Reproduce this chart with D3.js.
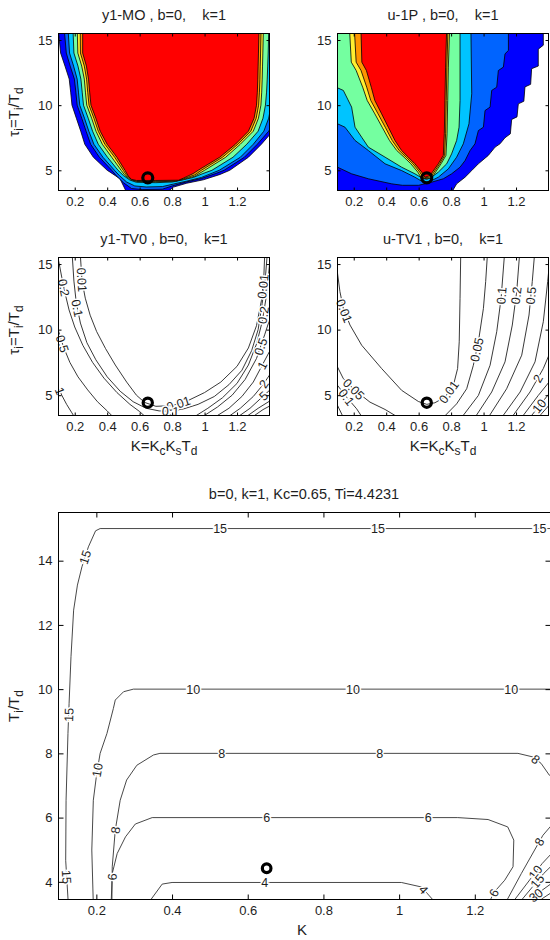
<!DOCTYPE html>
<html>
<head>
<meta charset="utf-8">
<script src="https://cdn.jsdelivr.net/npm/d3@7"></script>
<style>
  body { margin: 0; background: #fff; }
  svg { display: block; }
</style>
</head>
<body>
<svg id="fig" width="550" height="940"></svg>
<script>
// ---- shared axes data ----
const kDomain = [0.1, 1.4];
const tauDomain = [3.45, 15.5];
const kTicks = [0.2, 0.4, 0.6, 0.8, 1, 1.2];
const tauTicksSmall = [5, 10, 15];
const tauTicksBig = [4, 6, 8, 10, 12, 14];
const optimum = [0.65, 4.4231];
const bandColors = ["#0000ff", "#0064ff", "#00c4ff", "#74ffa0", "#ffee30", "#ff9400", "#ff0000"];

// ---- y1-MO filled contour: band edges per tau row ----
const moRows = [15.6, 14, 13, 12, 11, 10, 9, 8, 7, 6, 5];
const moLeft = [
  [0.100, 0.113, 0.140, 0.166, 0.175, 0.183, 0.210, 0.237, 0.262, 0.315, 0.400],
  [0.137, 0.148, 0.172, 0.198, 0.207, 0.215, 0.243, 0.270, 0.298, 0.352, 0.428],
  [0.160, 0.168, 0.193, 0.215, 0.223, 0.231, 0.260, 0.287, 0.318, 0.374, 0.445],
  [0.190, 0.195, 0.220, 0.238, 0.246, 0.254, 0.283, 0.310, 0.345, 0.402, 0.467],
  [0.216, 0.219, 0.243, 0.259, 0.266, 0.274, 0.304, 0.331, 0.370, 0.428, 0.486],
  [0.234, 0.235, 0.259, 0.273, 0.280, 0.288, 0.318, 0.345, 0.386, 0.446, 0.499],
  [0.249, 0.249, 0.272, 0.285, 0.292, 0.300, 0.330, 0.357, 0.400, 0.460, 0.510]
];
// right edges listed from tau=5 upwards
const moRight = [
  [1.155, 1.27, 1.35, 1.42, 1.46, 1.49, 1.51, 1.52, 1.53, 1.54, 1.55],
  [1.12, 1.245, 1.325, 1.395, 1.44, 1.47, 1.49, 1.50, 1.51, 1.52, 1.53],
  [1.09, 1.22, 1.30, 1.365, 1.395, 1.41, 1.42, 1.43, 1.435, 1.44, 1.445],
  [1.045, 1.175, 1.26, 1.33, 1.36, 1.375, 1.382, 1.386, 1.389, 1.392, 1.395],
  [1.0, 1.13, 1.22, 1.30, 1.332, 1.347, 1.352, 1.355, 1.357, 1.359, 1.362],
  [0.98, 1.11, 1.205, 1.285, 1.318, 1.333, 1.338, 1.341, 1.343, 1.345, 1.348],
  [0.96, 1.093, 1.19, 1.27, 1.305, 1.32, 1.325, 1.328, 1.33, 1.332, 1.335]
];
const moBottom = [
  [[0.418, 4.86], [0.479, 4.35], [0.52, 3.3], [0.767, 3.3], [0.808, 3.71], [0.89, 4.01], [0.992, 4.27], [1.095, 4.68]],
  [[0.455, 4.6], [0.50, 4.05], [0.55, 3.6], [0.62, 3.52], [0.74, 3.55], [0.80, 3.8], [0.88, 4.08], [0.98, 4.37], [1.07, 4.76]],
  [[0.475, 4.6], [0.52, 4.1], [0.57, 3.8], [0.64, 3.72], [0.74, 3.75], [0.81, 3.95], [0.89, 4.17], [0.98, 4.45], [1.05, 4.8]],
  [[0.50, 4.6], [0.54, 4.25], [0.58, 4.08], [0.7, 4.05], [0.8, 4.1], [0.86, 4.25], [0.93, 4.45], [0.99, 4.75]],
  [[0.51, 4.6], [0.545, 4.28], [0.58, 4.14], [0.7, 4.12], [0.82, 4.16], [0.87, 4.3], [0.94, 4.55]],
  [[0.52, 4.6], [0.55, 4.3], [0.58, 4.18], [0.7, 4.17], [0.83, 4.2], [0.87, 4.35], [0.94, 4.65]],
  [[0.53, 4.55], [0.55, 4.3], [0.58, 4.22], [0.7, 4.22], [0.84, 4.24], [0.87, 4.4], [0.93, 4.75]]
];

// ---- u-1P filled contour: one outline per band ----
const u1pBlue = [[0.0, 15.7], [1.368, 15.7], [1.368, 14.6], [1.337, 14.3], [1.337, 13.0], [1.296, 12.8], [1.290, 11.6],
  [1.255, 11.4], [1.248, 10.3], [1.214, 10.1], [1.206, 9.1], [1.173, 8.9], [1.165, 7.8], [1.132, 7.5], [1.101, 7.03],
  [1.071, 6.78], [1.029, 6.14], [0.968, 5.5], [0.927, 4.98], [0.886, 4.47], [0.834, 3.96], [0.803, 3.3], [0.0, 3.3]];
const u1pMid = [[0.0, 15.7], [1.153, 15.7], [1.153, 14.2], [1.132, 13.94], [1.122, 12.92], [1.091, 12.66], [1.081, 11.38],
  [1.05, 11.13], [1.04, 9.85], [1.009, 9.59], [0.999, 8.31], [0.968, 8.05], [0.947, 7.03], [0.917, 6.52], [0.886, 5.75],
  [0.855, 5.24], [0.803, 4.73], [0.752, 4.35], [0.68, 4.09], [0.60, 3.85], [0.5, 3.85], [0.434, 3.96], [0.29, 4.35],
  [0.187, 4.73], [0.1, 5.24], [0.0, 5.3]];
const u1pCyan = [[0.0, 15.7], [0.922, 15.7], [0.927, 10.87], [0.91, 8.57], [0.875, 7.03], [0.834, 6.01], [0.783, 5.11],
  [0.721, 4.47], [0.66, 4.09], [0.629, 4.09], [0.577, 4.47], [0.495, 4.98], [0.393, 5.5], [0.29, 6.52], [0.208, 7.29],
  [0.146, 8.31], [0.1, 8.57], [0.0, 8.6]];
const u1pMint = [[0.0, 15.7], [0.855, 15.7], [0.855, 10.36], [0.849, 8.31], [0.834, 7.29], [0.803, 6.26], [0.773, 5.5],
  [0.721, 4.86], [0.68, 4.47], [0.65, 4.3], [0.619, 4.42], [0.577, 4.73], [0.495, 5.24], [0.393, 6.01], [0.29, 6.78],
  [0.249, 7.54], [0.208, 8.31], [0.187, 9.85], [0.136, 11.13], [0.1, 11.33], [0.0, 11.4]];
const u1pYellow = [[0.175, 15.6], [0.185, 13.3], [0.215, 12.66], [0.255, 11.38], [0.283, 10.36], [0.33, 9.33], [0.375, 8.31],
  [0.42, 7.29], [0.465, 6.52], [0.51, 6.01], [0.552, 5.5], [0.595, 4.86], [0.62, 4.35], [0.68, 4.4], [0.738, 5.5],
  [0.768, 6.14], [0.775, 7.8], [0.779, 10.36], [0.783, 12.92], [0.79, 15.6]];
const u1pOrange = [[0.205, 15.6], [0.215, 13.3], [0.245, 12.66], [0.28, 11.38], [0.305, 10.36], [0.35, 9.33], [0.394, 8.31],
  [0.437, 7.29], [0.48, 6.52], [0.523, 6.01], [0.565, 5.5], [0.607, 4.86], [0.63, 4.4], [0.675, 4.5], [0.73, 5.5],
  [0.76, 6.14], [0.766, 7.8], [0.77, 10.36], [0.774, 12.92], [0.78, 15.6]];
const u1pRed = [[0.245, 15.6], [0.25, 13.3], [0.278, 12.66], [0.308, 11.38], [0.33, 10.36], [0.372, 9.33], [0.413, 8.31],
  [0.454, 7.29], [0.495, 6.52], [0.536, 6.01], [0.577, 5.5], [0.619, 4.86], [0.639, 4.47], [0.67, 4.6], [0.721, 5.5],
  [0.752, 6.14], [0.758, 7.8], [0.762, 10.36], [0.766, 12.92], [0.772, 15.6]];

// ---- y1-TV0 contour lines ----
const tv0Lines = [
  { level: "0.01", lines: [[[0.235, 15.6], [0.245, 13.7], [0.265, 12.4], [0.295, 11.1], [0.335, 9.85], [0.39, 8.55], [0.45, 7.3],
    [0.52, 6.0], [0.58, 5.0], [0.63, 4.45], [0.70, 4.15], [0.80, 4.2], [0.90, 4.6], [1.0, 5.2], [1.1, 6.0], [1.2, 7.2],
    [1.27, 8.6], [1.32, 10.3], [1.35, 12.2], [1.365, 14.0], [1.37, 15.6]]] },
  { level: "0.1", lines: [[[0.185, 15.6], [0.195, 13.7], [0.21, 12.0], [0.235, 10.5], [0.275, 9.0], [0.33, 7.7], [0.40, 6.4],
    [0.48, 5.3], [0.56, 4.5], [0.64, 4.0], [0.72, 3.8], [0.79, 3.78], [0.87, 3.95], [0.96, 4.3], [1.06, 4.9], [1.15, 5.8],
    [1.23, 6.9], [1.29, 8.4], [1.33, 10.0], [1.355, 12.0], [1.375, 14.0], [1.385, 15.6]]] },
  { level: "0.2", lines: [[[0.1, 15.3], [0.12, 14.0], [0.14, 12.8], [0.165, 11.5], [0.2, 10.2], [0.25, 8.8], [0.31, 7.5],
    [0.38, 6.3], [0.46, 5.2], [0.54, 4.3], [0.6, 3.75], [0.64, 3.3]],
    [[0.93, 3.3], [1.02, 4.0], [1.11, 4.8], [1.2, 5.9], [1.27, 7.3], [1.32, 8.9], [1.355, 10.6], [1.38, 12.5], [1.395, 14.3], [1.405, 15.6]]] },
  { level: "0.5", lines: [[[0.09, 10.3], [0.1, 9.9], [0.13, 8.7], [0.17, 7.5], [0.22, 6.4], [0.28, 5.4], [0.34, 4.5], [0.40, 3.8], [0.44, 3.3]],
    [[0.98, 3.3], [1.08, 4.1], [1.17, 5.0], [1.25, 6.2], [1.32, 7.8], [1.37, 9.6], [1.42, 11.5]]] },
  { level: "1", lines: [[[0.09, 6.0], [0.1, 5.6], [0.12, 5.0], [0.15, 4.3], [0.18, 3.7], [0.2, 3.3]],
    [[1.06, 3.3], [1.15, 4.0], [1.23, 4.9], [1.3, 6.0], [1.36, 7.4], [1.42, 8.8]]] },
  { level: "2", lines: [[[1.14, 3.3], [1.22, 4.0], [1.3, 4.9], [1.36, 5.8], [1.42, 6.9]]] },
  { level: "5", lines: [[[1.2, 3.3], [1.28, 4.0], [1.35, 4.8], [1.42, 5.6]]] },
  { level: "10", lines: [[[1.25, 3.3], [1.33, 4.0], [1.42, 4.7]]] },
  { level: "20", lines: [[[1.29, 3.3], [1.36, 3.9], [1.42, 4.3]]] }
];
const tv0Labels = [
  ["0.2", 0.13, 13.2], ["0.01", 0.24, 13.8], ["0.1", 0.2, 11.6], ["0.5", 0.12, 8.9], ["1", 0.105, 5.3],
  ["0.01", 0.84, 4.34], ["0.1", 0.79, 3.78],
  ["0.01", 1.36, 13.3], ["0.2", 1.365, 11.1], ["0.5", 1.345, 8.7], ["1", 1.35, 7.3], ["2", 1.36, 5.9], ["5", 1.36, 5.0]
];

// ---- u-TV1 contour lines ----
const tv1Lines = [
  { level: "0.01", lines: [[[0.095, 14.6], [0.1, 14.3], [0.115, 12.9], [0.136, 11.62], [0.177, 10.35], [0.249, 8.81], [0.372, 7.03],
    [0.495, 5.37], [0.598, 4.52], [0.65, 4.3], [0.70, 4.42], [0.762, 4.85], [0.814, 5.75], [0.84, 7.03], [0.85, 9.07],
    [0.855, 12.39], [0.859, 15.6]]] },
  { level: "0.05", lines: [[[0.09, 7.4], [0.1, 7.15], [0.136, 6.26], [0.208, 5.37], [0.3, 4.47], [0.393, 3.91], [0.475, 3.3]],
    [[0.752, 3.3], [0.834, 4.34], [0.896, 5.49], [0.937, 7.28], [0.968, 9.07], [0.999, 11.62], [1.013, 13.67], [1.023, 15.6]]] },
  { level: "0.1", lines: [[[0.09, 6.0], [0.1, 5.75], [0.156, 4.85], [0.218, 3.96], [0.253, 3.3]],
    [[0.865, 3.3], [0.968, 4.98], [1.04, 7.28], [1.081, 9.84], [1.108, 12.39], [1.128, 15.6]]] },
  { level: "0.2", lines: [[[0.09, 4.5], [0.1, 4.22], [0.136, 3.3]],
    [[0.947, 3.3], [1.05, 5.24], [1.132, 7.54], [1.177, 10.35], [1.204, 12.9], [1.221, 15.6]]] },
  { level: "0.5", lines: [[[1.029, 3.3], [1.142, 5.49], [1.235, 8.05], [1.28, 11.11], [1.3, 13.67], [1.313, 15.6]]] },
  { level: "1", lines: [[[1.112, 3.3], [1.225, 5.24], [1.317, 7.54], [1.368, 10.6], [1.395, 13.67], [1.41, 15.6]]] },
  { level: "2", lines: [[[1.173, 3.3], [1.286, 5.24], [1.368, 7.03], [1.42, 8.56]]] },
  { level: "5", lines: [[[1.235, 3.3], [1.337, 4.98], [1.42, 6.26]]] },
  { level: "10", lines: [[[1.286, 3.3], [1.42, 5.37]]] },
  { level: "20", lines: [[[1.337, 3.3], [1.42, 4.47]]] }
];
const tv1Labels = [
  ["0.01", 0.136, 11.4], ["0.01", 0.78, 5.3], ["0.05", 0.2, 5.45], ["0.1", 0.15, 4.8], ["0.05", 0.95, 8.5],
  ["0.1", 1.11, 12.6], ["0.2", 1.204, 12.6], ["0.5", 1.287, 12.6], ["2", 1.33, 6.3], ["10", 1.34, 4.2]
];

// ---- b=0, k=1, Kc=0.65, Ti=4.4231 contour lines ----
const tiLines = [
  { level: "15", lines: [[[1.45, 15.0], [0.21, 15.0], [0.198, 14.93], [0.179, 14.43], [0.162, 13.81], [0.150, 13.24], [0.140, 12.46],
    [0.133, 11.01], [0.128, 9.56], [0.125, 8.62], [0.120, 6.54], [0.119, 4.67], [0.126, 3.3]],
    [[1.314, 3.3], [1.382, 4.26], [1.42, 4.7]]] },
  { level: "10", lines: [[[1.45, 10.0], [0.298, 10.0], [0.272, 9.92], [0.250, 9.66], [0.245, 9.4], [0.228, 8.62], [0.210, 8.0],
    [0.201, 7.37], [0.192, 6.54], [0.188, 4.99], [0.192, 3.3]],
    [[1.296, 3.3], [1.378, 4.57], [1.42, 5.1]]] },
  { level: "8", lines: [[[1.45, 7.1], [1.397, 7.32], [1.375, 7.69], [1.353, 7.89], [1.314, 8.0], [0.368, 8.0], [0.351, 7.95],
    [0.307, 7.63], [0.280, 7.17], [0.263, 6.54], [0.250, 5.61], [0.242, 4.47], [0.241, 3.3]],
    [[1.279, 3.3], [1.323, 4.26], [1.38, 5.45], [1.42, 6.0]]] },
  { level: "6", lines: [[[0.239, 3.3], [0.242, 4.26], [0.255, 4.88], [0.277, 5.40], [0.303, 5.80], [0.3475, 6.0], [1.155, 6.0],
    [1.235, 5.94], [1.287, 5.71], [1.303, 5.30], [1.301, 4.47], [1.279, 4.05], [1.252, 3.69], [1.235, 3.3]]] },
  { level: "4", lines: [[[0.335, 3.3], [0.374, 3.93], [0.40, 3.98], [1.006, 3.98], [1.059, 3.84], [1.10, 3.3]]] },
  { level: "30", lines: [[[1.331, 3.3], [1.378, 3.74], [1.42, 4.1]]] },
  { level: "45", lines: [[[1.355, 3.3], [1.42, 3.8]]] }
];
const tiLabels = [
  ["15", 0.527, 15], ["15", 0.944, 15], ["15", 1.371, 15], ["15", 0.172, 14.1], ["15", 0.127, 9.2], ["15", 0.119, 4.15],
  ["10", 0.456, 10], ["10", 0.878, 10], ["10", 1.296, 10], ["10", 0.203, 7.48], ["10", 1.36, 4.3],
  ["8", 0.531, 8], ["8", 0.949, 8], ["8", 0.25, 5.61], ["8", 1.36, 7.8], ["8", 1.37, 5.25],
  ["6", 0.65, 6], ["6", 1.077, 6], ["6", 0.247, 4.15], ["6", 1.25, 3.66],
  ["4", 0.645, 3.98], ["4", 1.059, 3.7], ["15", 1.365, 4.02], ["30", 1.36, 3.6]
];

// ---- drawing ----
const FONT = 'Arial, "Liberation Sans", Helvetica, sans-serif';
const TEXT = "#1e1e1e";
const svg = d3.select("#fig").attr("font-family", FONT);
let clipCount = 0;

function makePanel(box) {
  const x = d3.scaleLinear().domain(kDomain).range([box.left, box.right]);
  const y = d3.scaleLinear().domain(tauDomain).range([box.bottom, box.top]);
  const id = "clip" + (clipCount++);
  svg.append("clipPath").attr("id", id).append("rect")
    .attr("x", box.left).attr("y", box.top)
    .attr("width", box.right - box.left).attr("height", box.bottom - box.top);
  const plot = svg.append("g").attr("clip-path", `url(#${id})`);
  const line = d3.line().x(d => x(d[0])).y(d => y(d[1]));
  return { x, y, plot, box, line };
}

function drawAxes(p, yTicks, len) {
  const { box } = p;
  const style = g => {
    g.select(".domain").remove();
    g.attr("font-family", FONT).attr("font-size", 13);
    g.selectAll("text").attr("fill", TEXT);
    g.selectAll("line").attr("stroke", "#000");
  };
  svg.append("g").attr("transform", `translate(0,${box.bottom})`)
    .call(d3.axisBottom(p.x).tickValues(kTicks).tickFormat(d => String(d)).tickSizeInner(-len).tickSizeOuter(0).tickPadding(6))
    .call(style);
  svg.append("g").attr("transform", `translate(0,${box.top})`)
    .call(d3.axisTop(p.x).tickValues(kTicks).tickFormat("").tickSizeInner(-len).tickSizeOuter(0))
    .call(style);
  svg.append("g").attr("transform", `translate(${box.left},0)`)
    .call(d3.axisLeft(p.y).tickValues(yTicks).tickFormat(d => String(d)).tickSizeInner(-len).tickSizeOuter(0).tickPadding(6))
    .call(style);
  svg.append("g").attr("transform", `translate(${box.right},0)`)
    .call(d3.axisRight(p.y).tickValues(yTicks).tickFormat("").tickSizeInner(-len).tickSizeOuter(0))
    .call(style);
  svg.append("rect")
    .attr("x", box.left).attr("y", box.top)
    .attr("width", box.right - box.left).attr("height", box.bottom - box.top)
    .attr("fill", "none").attr("stroke", "#000").attr("stroke-width", 1);
}

function drawBands(p, polys) {
  polys.forEach((poly, i) => {
    p.plot.append("path")
      .attr("d", p.line(poly) + "Z")
      .attr("fill", bandColors[i])
      .attr("stroke", "#000")
      .attr("stroke-width", 0.8);
  });
}

function drawContours(p, sets, labels, color) {
  sets.forEach(s => {
    s.lines.forEach(l => {
      p.plot.append("path").attr("d", p.line(l))
        .attr("fill", "none").attr("stroke", color).attr("stroke-width", 0.9);
    });
  });
  const lab = svg.append("g");
  labels.forEach(([txt, k, tau]) => {
    const set = sets.find(s => s.level === txt);
    const px = p.x(k), py = p.y(tau);
    let best = null;
    set.lines.forEach(l => {
      for (let i = 0; i < l.length - 1; i++) {
        const ax = p.x(l[i][0]), ay = p.y(l[i][1]);
        const bx = p.x(l[i + 1][0]), by = p.y(l[i + 1][1]);
        const dx = bx - ax, dy = by - ay, len2 = dx * dx + dy * dy || 1;
        const t = Math.max(0, Math.min(1, ((px - ax) * dx + (py - ay) * dy) / len2));
        const qx = ax + t * dx, qy = ay + t * dy;
        const dist = (qx - px) ** 2 + (qy - py) ** 2;
        if (!best || dist < best.dist) best = { dist, qx, qy, ang: Math.atan2(dy, dx) * 180 / Math.PI };
      }
    });
    let a = best.ang;
    if (a > 90) a -= 180;
    if (a < -90) a += 180;
    lab.append("text")
      .attr("transform", `translate(${best.qx},${best.qy}) rotate(${a})`)
      .attr("text-anchor", "middle").attr("dy", "0.36em")
      .attr("font-size", 12.5)
      .attr("fill", TEXT)
      .attr("stroke", "#fff").attr("stroke-width", 3).attr("paint-order", "stroke")
      .text(txt);
  });
}

function drawMarker(p, r) {
  p.plot.append("circle")
    .attr("cx", p.x(optimum[0])).attr("cy", p.y(optimum[1]))
    .attr("r", r).attr("fill", "none").attr("stroke", "#000").attr("stroke-width", 3.2);
}

function title(x, y, txt) {
  svg.append("text").attr("x", x).attr("y", y).attr("text-anchor", "middle")
    .attr("font-size", 14.5).attr("fill", TEXT).style("white-space", "pre").text(txt);
}

// parts: [text, isSub]
function richText(x, y, parts, rotate) {
  const t = svg.append("text")
    .attr("transform", `translate(${x},${y})` + (rotate ? " rotate(-90)" : ""))
    .attr("text-anchor", "middle").attr("font-size", 15).attr("fill", TEXT);
  let shifted = false;
  parts.forEach(([s, sub]) => {
    const ts = t.append("tspan").text(s);
    if (sub && !shifted) { ts.attr("dy", 4).attr("font-size", 12); shifted = true; }
    else if (sub) { ts.attr("font-size", 12); }
    else if (shifted) { ts.attr("dy", -4); shifted = false; }
  });
}

const tauLabel = [["\u03c4", 0], ["i", 1], ["=T", 0], ["i", 1], ["/T", 0], ["d", 1]];
const kLabel = [["K=K", 0], ["c", 1], ["K", 0], ["s", 1], ["T", 0], ["d", 1]];

// panel 1: y1-MO
const pMO = makePanel({ left: 58.5, right: 269.5, top: 33.5, bottom: 190.5 });
const moPolys = moLeft.map((left, i) => {
  const down = moRows.map((t, j) => [left[j], t]);
  const up = moRows.slice().reverse().map((t, j) => [moRight[i][j], t]);
  return down.concat(moBottom[i], up);
});
drawBands(pMO, moPolys);
drawMarker(pMO, 5);
drawAxes(pMO, tauTicksSmall, 3);
title(164, 20, "y1-MO , b=0,    k=1");
richText(19, 112, tauLabel, true);

// panel 2: u-1P
const pU1P = makePanel({ left: 337.5, right: 548.5, top: 33.5, bottom: 190.5 });
drawBands(pU1P, [u1pBlue, u1pMid, u1pCyan, u1pMint, u1pYellow, u1pOrange, u1pRed]);
drawMarker(pU1P, 5);
drawAxes(pU1P, tauTicksSmall, 3);
title(443, 20, "u-1P , b=0,    k=1");

// panel 3: y1-TV0
const pTV0 = makePanel({ left: 58.5, right: 269.5, top: 257.5, bottom: 415.5 });
drawContours(pTV0, tv0Lines, tv0Labels, "#222");
drawMarker(pTV0, 4.6);
drawAxes(pTV0, tauTicksSmall, 3);
title(164, 244, "y1-TV0 , b=0,    k=1");
richText(19, 330, tauLabel, true);
richText(164, 451, kLabel, false);

// panel 4: u-TV1
const pTV1 = makePanel({ left: 337.5, right: 548.5, top: 257.5, bottom: 415.5 });
drawContours(pTV1, tv1Lines, tv1Labels, "#222");
drawMarker(pTV1, 4.6);
drawAxes(pTV1, tauTicksSmall, 3);
title(443, 244, "u-TV1 , b=0,    k=1");
richText(443, 451, kLabel, false);

// panel 5: Ti contours
const pTi = makePanel({ left: 58.5, right: 550.5, top: 512.5, bottom: 899.5 });
drawContours(pTi, tiLines, tiLabels, "#333");
drawMarker(pTi, 4.3);
drawAxes(pTi, tauTicksBig, 5);
title(304, 499, "b=0, k=1, Kc=0.65, Ti=4.4231");
richText(19, 706, [["T", 0], ["i", 1], ["/T", 0], ["d", 1]], true);
richText(302, 935, [["K", 0]], false);
</script>
</body>
</html>
